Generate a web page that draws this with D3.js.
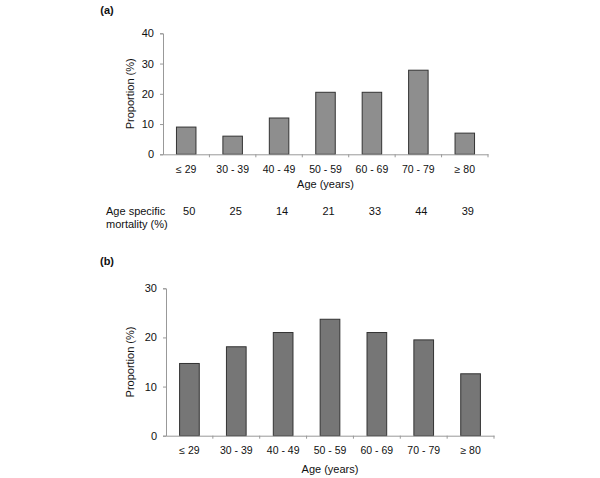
<!DOCTYPE html>
<html><head><meta charset="utf-8">
<script src="https://cdn.jsdelivr.net/npm/d3@7"></script>
<style>body{margin:0;background:#fff;} svg{display:block;font-family:"Liberation Sans",Arial,sans-serif;}</style>
</head><body>
<svg id="c" width="600" height="478"></svg>
<script>
const categories = ["\u2264 29","30 - 39","40 - 49","50 - 59","60 - 69","70 - 79","\u2265 80"];
const proportionA = [9, 6, 12, 20.5, 20.5, 27.8, 7];
const mortality = [50, 25, 14, 21, 33, 44, 39];
const proportionB = [14.7, 18.1, 21, 23.7, 21, 19.5, 12.6];
const ticksA = [0, 10, 20, 30, 40];
const ticksB = [0, 10, 20, 30];

const svg = d3.select("#c");

function panel(cfg) {
  const g = svg.append("g");
  const x = d3.scaleBand().domain(categories).range([cfg.x0, cfg.x1]).paddingInner(0.58).paddingOuter(0.29);
  const y = d3.scaleLinear().domain([0, cfg.max]).range([cfg.yb, cfg.yt]);
  g.selectAll("rect.bar").data(cfg.values).join("rect")
    .attr("x", (d,i) => x(categories[i]))
    .attr("y", d => y(d))
    .attr("width", x.bandwidth())
    .attr("height", d => y(0) - y(d))
    .attr("fill", cfg.fill).attr("stroke", "#333").attr("stroke-width", 1);
  const ya = g.append("g").attr("transform", `translate(${cfg.x0},0)`)
    .call(d3.axisLeft(y).tickValues(cfg.ticks).tickSize(3).tickPadding(6).tickFormat(d3.format("d")));
  ya.select(".domain").attr("stroke", "#999");
  ya.selectAll(".tick line").attr("stroke", "#999");
  ya.selectAll("text").attr("font-size", 11).attr("fill", "#111").attr("font-family", "Liberation Sans, Arial, sans-serif");
  const xa = g.append("g").attr("transform", `translate(0,${cfg.yb})`)
    .call(d3.axisBottom(x).tickSize(0).tickPadding(cfg.tickPad));
  xa.select(".domain").attr("stroke", "#999");
  xa.selectAll("text").attr("font-size", 10.5).attr("fill", "#111").attr("font-family", "Liberation Sans, Arial, sans-serif");
  const bounds = d3.range(1, categories.length + 1).map(i => cfg.x0 + i * (cfg.x1 - cfg.x0) / categories.length);
  g.selectAll("line.sep").data(bounds).join("line")
    .attr("x1", d => d).attr("x2", d => d).attr("y1", cfg.yb).attr("y2", cfg.yb + 3)
    .attr("stroke", "#999");
  g.append("text").attr("x", (cfg.x0 + cfg.x1) / 2).attr("y", cfg.yb + cfg.titleOff)
    .attr("text-anchor", "middle").attr("font-size", 11).attr("fill", "#111").text("Age (years)");
  g.append("text").attr("transform", `translate(${cfg.ytx},${(cfg.yb + cfg.yt) / 2}) rotate(-90)`)
    .attr("text-anchor", "middle").attr("font-size", 11).attr("fill", "#111").text("Proportion (%)");
  g.append("text").attr("x", 107).attr("y", cfg.labelY).attr("font-size", 11).attr("font-weight", "bold")
    .attr("text-anchor", "middle").attr("fill", "#111").text(cfg.label);
  return x;
}

const xA = panel({x0: 163, x1: 488, yt: 33.3, yb: 154.3, max: 40, ticks: ticksA, values: proportionA,
  fill: "#8e8e8e", ytx: 134, labelY: 14, label: "(a)", tickPad: 11, titleOff: 34});

svg.append("text").attr("x", 106).attr("y", 215).attr("font-size", 11).attr("fill", "#111").text("Age specific");
svg.append("text").attr("x", 106).attr("y", 228).attr("font-size", 11).attr("fill", "#111").text("mortality (%)");
svg.selectAll("text.mort").data(mortality).join("text").attr("class", "mort")
  .attr("x", (d,i) => xA(categories[i]) + xA.bandwidth() / 2 + 3)
  .attr("y", 215).attr("text-anchor", "middle").attr("font-size", 11).attr("fill", "#111").text(d => d);

panel({x0: 166, x1: 494, yt: 288.3, yb: 435.7, max: 30, ticks: ticksB, values: proportionB,
  fill: "#767676", ytx: 134, labelY: 265, label: "(b)", tickPad: 11, titleOff: 37.5});
</script>
</body></html>
